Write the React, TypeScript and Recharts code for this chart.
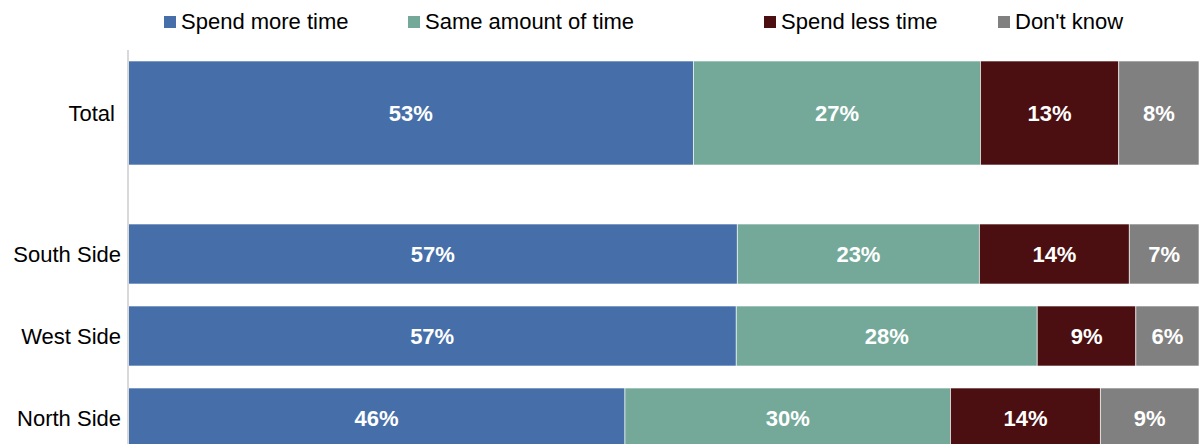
import * as React from "react";
import { BarChart, Bar, XAxis, YAxis, Legend, LabelList } from "recharts";

// values (percent of respondents)
const seriesNames = ["Spend more time", "Same amount of time", "Spend less time", "Don't know"];
const seriesKeys = ["more", "same", "less", "dontKnow"];
const seriesColors = ["#466fa9", "#74a99a", "#4b0f11", "#808080"];

const totalCategory = ["Total"];
const regionCategories = ["South Side", "West Side", "North Side"];

const moreTime = [52.8, 56.9, 56.8, 46.4];
const sameTime = [26.8, 22.6, 28.1, 30.4];
const lessTime = [12.9, 14.0, 9.2, 14.0];
const dontKnow = [7.5, 6.5, 5.9, 9.2];

const allCategories = [...totalCategory, ...regionCategories];
const rows = allCategories.map((name, i) => ({
    name,
    more: moreTime[i],
    same: sameTime[i],
    less: lessTime[i],
    dontKnow: dontKnow[i],
}));
const totalRows = rows.slice(0, 1);
const regionRows = rows.slice(1);

const FONT = "'Liberation Sans', Arial, sans-serif";

const CustomLegend = () => {
    const lefts = [164, 408, 764, 998];
    return (
        <div style={{ position: "relative", width: 1199, height: 45, fontFamily: FONT }}>
            {seriesNames.map((n, i) => (
                <div key={n} style={{ position: "absolute", left: lefts[i], top: 9, display: "flex", alignItems: "center", height: 26 }}>
                    <span style={{ display: "inline-block", width: 12, height: 12, background: seriesColors[i], marginRight: 5 }} />
                    <span style={{ fontSize: 22, color: "#000", whiteSpace: "nowrap" }}>{n}</span>
                </div>
            ))}
        </div>
    );
};

const pct = (v: any) => `${Math.round(Number(v))}%`;

const renderBars = () =>
    seriesKeys.map((k, i) => (
        <Bar key={k} dataKey={k} name={seriesNames[i]} stackId="a" fill={seriesColors[i]}
             stroke="#ffffff" strokeOpacity={0.6} strokeWidth={1} isAnimationActive={false}>
            <LabelList dataKey={k} position="center" formatter={pct}
                       style={{ fill: "#ffffff", fontWeight: "bold", fontSize: 22, fontFamily: FONT }} />
        </Bar>
    ));

export default function App() {
    return (
        <div style={{ position: "absolute", left: 0, top: 0, width: 1199, height: 444, overflow: "hidden", background: "#fff" }}>
            <div style={{ position: "absolute", left: 0, top: 0 }}>
                <BarChart width={1199} height={176} data={totalRows} layout="vertical" barSize={104}
                          margin={{ top: 5, right: 0, bottom: 0, left: 0 }}>
                    <XAxis type="number" domain={[0, 100]} hide />
                    <YAxis type="category" dataKey="name" width={128} tickLine={false} tickSize={0} tickMargin={13}
                           axisLine={{ stroke: "#d9d9d9", strokeWidth: 2 }}
                           tick={{ fill: "#000", fontSize: 22, fontFamily: FONT }} />
                    <Legend content={CustomLegend} verticalAlign="top"
                            wrapperStyle={{ top: 0, left: 0, width: 1199, height: 45 }} />
                    {renderBars()}
                </BarChart>
            </div>
            <div style={{ position: "absolute", left: 0, top: 176 }}>
                <BarChart width={1199} height={283} data={regionRows} layout="vertical" barSize={60}
                          margin={{ top: 0, right: 0, bottom: 0, left: 0 }}>
                    <XAxis type="number" domain={[0, 100]} hide />
                    <YAxis type="category" dataKey="name" width={128} tickLine={false} tickSize={0} tickMargin={7}
                           padding={{ top: 37, bottom: 0 }}
                           axisLine={{ stroke: "#d9d9d9", strokeWidth: 2 }}
                           tick={{ fill: "#000", fontSize: 22, fontFamily: FONT }} />
                    {renderBars()}
                </BarChart>
            </div>
        </div>
    );
}
